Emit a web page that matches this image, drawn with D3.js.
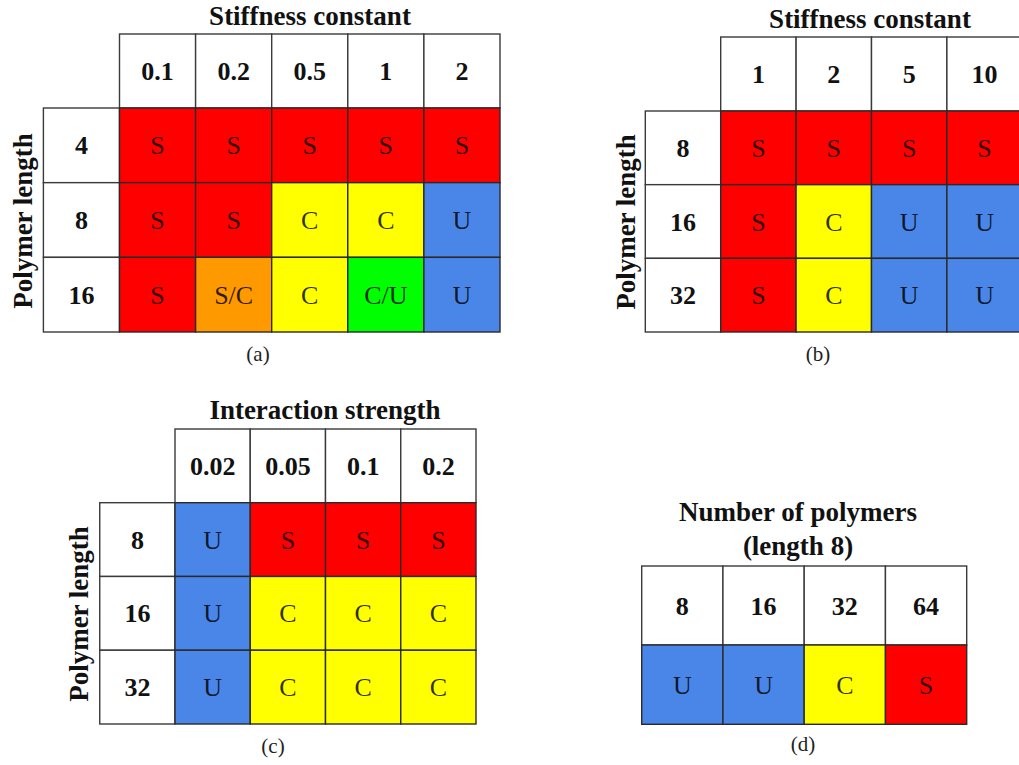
<!DOCTYPE html>
<html>
<head>
<meta charset="utf-8">
<script src="https://cdn.jsdelivr.net/npm/d3@7/dist/d3.min.js"></script>
<style>
  html, body { margin: 0; padding: 0; background: #fff; }
  svg { display: block; }
</style>
</head>
<body>
<svg id="chart" width="1019" height="765"></svg>
<script>
// ---------- data ----------
const aTitle = ["Stiffness constant"];
const aCols = ["0.1", "0.2", "0.5", "1", "2"];
const aRows = ["4", "8", "16"];
const aVals = [
  ["S", "S", "S", "S", "S"],
  ["S", "S", "C", "C", "U"],
  ["S", "S/C", "C", "C/U", "U"]
];

const bTitle = ["Stiffness constant"];
const bCols = ["1", "2", "5", "10"];
const bRows = ["8", "16", "32"];
const bVals = [
  ["S", "S", "S", "S"],
  ["S", "C", "U", "U"],
  ["S", "C", "U", "U"]
];

const cTitle = ["Interaction strength"];
const cCols = ["0.02", "0.05", "0.1", "0.2"];
const cRows = ["8", "16", "32"];
const cVals = [
  ["U", "S", "S", "S"],
  ["U", "C", "C", "C"],
  ["U", "C", "C", "C"]
];

const dTitle = ["Number of polymers", "(length 8)"];
const dCols = ["8", "16", "32", "64"];
const dRows = [];
const dVals = [
  ["U", "U", "C", "S"]
];

const rowAxisLabel = "Polymer length";
const phaseKeys = ["S", "S/C", "C", "C/U", "U"];
const phaseColors = ["#ff0000", "#ff9900", "#ffff00", "#00ff00", "#4a86e8"];

// ---------- layout ----------
const svg = d3.select("#chart");
const color = d3.scaleOrdinal().domain(phaseKeys).range(phaseColors);
const serif = "'Liberation Serif', 'Times New Roman', Times, serif";

const panels = [
  { title: aTitle, cols: aCols, rows: aRows, vals: aVals, caption: "(a)",
    left: 119.5, right: 500, top: 34, headBottom: 108, bottom: 332,
    titleX: 310, titleY: 25, capX: 258, capY: 361, rowLabelX: 32, rowLabelY: 221 },
  { title: bTitle, cols: bCols, rows: bRows, vals: bVals, caption: "(b)",
    left: 720.7, right: 1022.3, top: 37, headBottom: 111, bottom: 332,
    titleX: 870, titleY: 28, capX: 818, capY: 361, rowLabelX: 635, rowLabelY: 222 },
  { title: cTitle, cols: cCols, rows: cRows, vals: cVals, caption: "(c)",
    left: 175, right: 476, top: 429, headBottom: 502.7, bottom: 724,
    titleX: 325, titleY: 419, capX: 273, capY: 753, rowLabelX: 88, rowLabelY: 614 },
  { title: dTitle, cols: dCols, rows: dRows, vals: dVals, caption: "(d)",
    left: 641.7, right: 966.7, top: 566, headBottom: 645, bottom: 724.3,
    titleX: 798, titleY: 521, capX: 803, capY: 751, rowLabelX: null, rowLabelY: null }
];

panels.forEach(p => {
  const g = svg.append("g");
  const x = d3.scaleBand().domain(p.cols).range([p.left, p.right]).padding(0);
  const nBody = p.vals.length;
  const bodyKeys = d3.range(nBody).map(String);
  const y = d3.scaleBand().domain(bodyKeys).range([p.headBottom, p.bottom]).padding(0);
  const w = x.bandwidth();

  // header cells
  g.selectAll("rect.head").data(p.cols).join("rect")
    .attr("x", d => x(d)).attr("y", p.top)
    .attr("width", w).attr("height", p.headBottom - p.top)
    .attr("fill", "#fff").attr("stroke", "#3a3a3a").attr("stroke-width", 1.4);
  g.selectAll("text.head").data(p.cols).join("text")
    .attr("x", d => x(d) + w / 2).attr("y", (p.top + p.headBottom) / 2)
    .attr("dy", "0.35em").attr("text-anchor", "middle")
    .attr("font-family", serif).attr("font-weight", "bold").attr("font-size", 26)
    .attr("fill", "#111").text(d => d);

  // row label cells
  if (p.rows.length) {
    g.selectAll("rect.rowlab").data(p.rows).join("rect")
      .attr("x", p.left - w).attr("y", (d, i) => y(String(i)))
      .attr("width", w).attr("height", y.bandwidth())
      .attr("fill", "#fff").attr("stroke", "#3a3a3a").attr("stroke-width", 1.4);
    g.selectAll("text.rowlab").data(p.rows).join("text")
      .attr("x", p.left - w / 2).attr("y", (d, i) => y(String(i)) + y.bandwidth() / 2)
      .attr("dy", "0.35em").attr("text-anchor", "middle")
      .attr("font-family", serif).attr("font-weight", "bold").attr("font-size", 26)
      .attr("fill", "#111").text(d => d);
  }

  // body cells
  const cells = [];
  p.vals.forEach((row, i) => row.forEach((v, j) => cells.push({ r: String(i), c: p.cols[j], v })));
  g.selectAll("rect.cell").data(cells).join("rect")
    .attr("x", d => x(d.c)).attr("y", d => y(d.r))
    .attr("width", w).attr("height", y.bandwidth())
    .attr("fill", d => color(d.v)).attr("stroke", "#2a2a2a").attr("stroke-width", 1.4);
  g.selectAll("text.cell").data(cells).join("text")
    .attr("x", d => x(d.c) + w / 2).attr("y", d => y(d.r) + y.bandwidth() / 2)
    .attr("dy", "0.35em").attr("text-anchor", "middle")
    .attr("font-family", serif).attr("font-size", 26)
    .attr("fill", "#000").attr("fill-opacity", 0.82).text(d => d.v);

  // title (one or two lines)
  p.title.forEach((t, i) => {
    g.append("text")
      .attr("x", p.titleX).attr("y", p.titleY + i * 34)
      .attr("text-anchor", "middle")
      .attr("font-family", serif).attr("font-weight", "bold").attr("font-size", 27)
      .attr("fill", "#111").text(t);
  });

  // row axis label
  if (p.rowLabelX !== null) {
    g.append("text")
      .attr("transform", `translate(${p.rowLabelX},${p.rowLabelY}) rotate(-90)`)
      .attr("text-anchor", "middle")
      .attr("font-family", serif).attr("font-weight", "bold").attr("font-size", 27)
      .attr("fill", "#111").text(rowAxisLabel);
  }

  // caption
  g.append("text")
    .attr("x", p.capX).attr("y", p.capY)
    .attr("text-anchor", "middle")
    .attr("font-family", serif).attr("font-size", 21)
    .attr("fill", "#222").text(p.caption);
});
</script>
</body>
</html>
